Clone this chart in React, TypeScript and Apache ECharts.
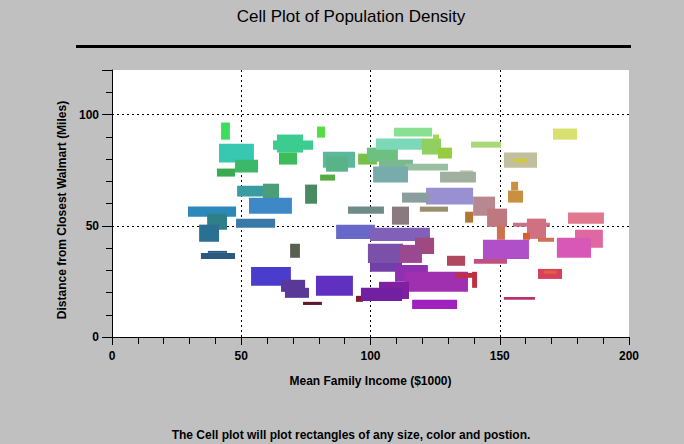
import React, { useEffect, useRef } from "react";
import * as echarts from "echarts";

const chartTitle = "Cell Plot of Population Density";
const footerText = "The Cell plot will plot rectangles of any size, color and postion.";
const xAxisName = "Mean Family Income ($1000)";
const yAxisName = "Distance from Closest Walmart (Miles)";

// each cell: [xStart, xEnd, yStart, yEnd] in data units
const cells: number[][] = [
  [42.2, 45.6, 88.7, 96.4],
  [41.4, 54.9, 78.4, 86.9],
  [47.6, 56.5, 73.9, 79.7],
  [40.6, 47.6, 72.1, 75.7],
  [48.4, 61.1, 63.1, 68.0],
  [58.4, 64.6, 60.8, 68.9],
  [53.0, 69.6, 55.4, 62.6],
  [29.4, 48.0, 54.1, 58.6],
  [36.8, 44.5, 48.2, 55.4],
  [33.7, 41.4, 42.8, 50.5],
  [48.0, 63.1, 49.1, 53.2],
  [34.4, 47.6, 35.1, 37.8],
  [37.1, 44.5, 37.8, 38.7],
  [53.8, 69.2, 23.0, 31.5],
  [63.8, 73.9, 82.9, 91.0],
  [62.3, 77.8, 84.2, 88.3],
  [64.6, 71.6, 77.5, 82.9],
  [79.3, 82.4, 89.6, 94.6],
  [81.6, 94.0, 76.1, 83.3],
  [82.8, 91.3, 74.3, 81.1],
  [80.5, 86.3, 70.3, 73.0],
  [74.7, 79.3, 59.9, 68.5],
  [68.9, 72.7, 35.6, 41.9],
  [91.3, 105.2, 55.4, 58.6],
  [86.7, 101.7, 44.1, 50.5],
  [95.2, 102.5, 77.5, 82.4],
  [98.6, 110.6, 78.8, 85.1],
  [102.1, 120.3, 84.2, 89.2],
  [109.1, 123.8, 90.1, 94.1],
  [119.9, 127.3, 82.0, 89.2],
  [124.2, 126.5, 88.7, 91.0],
  [126.1, 131.5, 80.2, 85.1],
  [138.9, 150.5, 85.1, 87.8],
  [103.3, 116.4, 75.2, 79.7],
  [113.3, 130.0, 74.8, 77.9],
  [101.0, 114.5, 69.4, 76.6],
  [126.9, 140.8, 69.4, 74.3],
  [134.6, 139.7, 74.3, 74.8],
  [121.5, 139.7, 59.5, 67.1],
  [112.2, 122.6, 60.4, 64.9],
  [119.1, 130.0, 56.3, 58.6],
  [108.3, 114.9, 50.5, 58.6],
  [151.6, 164.4, 76.1, 82.9],
  [155.1, 160.9, 78.4, 80.2],
  [170.6, 179.9, 88.7, 93.7],
  [154.4, 157.1, 65.8, 69.8],
  [153.2, 159.0, 60.4, 65.8],
  [139.7, 148.2, 54.5, 63.1],
  [145.1, 152.8, 49.5, 57.7],
  [136.6, 139.7, 51.4, 56.3],
  [176.4, 190.3, 50.9, 55.9],
  [155.1, 169.4, 49.5, 51.4],
  [160.5, 167.9, 44.1, 53.2],
  [164.8, 171.0, 42.8, 44.6],
  [148.9, 152.0, 43.7, 50.0],
  [159.0, 161.7, 43.7, 46.8],
  [179.1, 189.9, 40.1, 48.2],
  [172.1, 185.3, 35.6, 44.6],
  [143.5, 161.3, 35.1, 43.7],
  [140.0, 152.8, 32.9, 35.1],
  [129.6, 136.6, 32.0, 36.5],
  [164.8, 174.1, 26.1, 30.6],
  [167.0, 172.0, 28.4, 29.9],
  [151.6, 163.6, 16.7, 18.0],
  [99.8, 123.0, 43.2, 49.1],
  [117.2, 124.6, 37.3, 44.6],
  [99.0, 112.6, 33.3, 41.9],
  [111.4, 119.9, 33.3, 41.4],
  [99.8, 112.2, 29.3, 33.3],
  [65.4, 74.7, 20.3, 25.7],
  [66.9, 76.2, 17.6, 22.1],
  [78.9, 93.2, 18.5, 27.5],
  [73.9, 81.2, 14.4, 15.8],
  [94.4, 97.1, 15.8, 18.5],
  [109.5, 122.2, 24.8, 32.4],
  [113.3, 137.7, 20.3, 29.3],
  [103.3, 114.9, 17.1, 24.8],
  [96.3, 112.2, 16.2, 22.1],
  [116.1, 133.5, 12.6, 16.7],
  [132.7, 139.7, 26.6, 28.8],
  [139.3, 141.2, 22.1, 29.3],
];

const cellColors: string[] = [
  "#3ddc5a", "#38c8b2", "#3cb86a", "#3aaa50", "#3a9ca0", "#4a9e78", "#3f88c8",
  "#2b88b8", "#2e8088", "#2a7090", "#3a78a8", "#2a5a80", "#2a5a80", "#4a3ccc",
  "#3ccc90", "#3ccc90", "#3cbc5a", "#55dd44", "#5cb89a", "#58b488", "#5aaa44",
  "#4a8a60", "#5a6050", "#708a88", "#6868c8", "#78c048", "#6cc080", "#7cd8b8",
  "#88e090", "#90d060", "#a0d850", "#98cc40", "#a8d878", "#7ab890", "#98c0a0",
  "#78acac", "#a0b0a0", "#a8b088", "#9890d0", "#8a9ea0", "#9a9070", "#8a7a80",
  "#c0c0a0", "#d0c840", "#d8e070", "#c89040", "#c89040", "#b88890", "#c07880",
  "#b07830", "#e07890", "#c87088", "#d07080", "#d07050", "#d07050", "#d86030",
  "#e068a0", "#d858b8", "#b050c8", "#c05080", "#b04860", "#d84060", "#e06040",
  "#b83070", "#8060b8", "#a04880", "#7a50a8", "#9a4890", "#7040a8", "#5a3898",
  "#5a3898", "#6030c0", "#601830", "#801830", "#9030b0", "#a030b0", "#8020a0",
  "#7020a0", "#a020c0", "#c03040", "#c03040",
];

const xTicks = { min: 0, max: 200, interval: 50 };
const yTicks = { min: 0, max: 120, interval: 50 };

const FONT = "'Liberation Sans', Arial, sans-serif";

export default function App() {
  const ref = useRef<HTMLDivElement>(null);
  useEffect(() => {
    if (!ref.current) return;
    const chart = echarts.init(ref.current, undefined, { renderer: "svg" });
    const dotted = { type: [2, 3] as number[], width: 1 };
    chart.setOption({
      animation: false,
      backgroundColor: "#c0c0c0",
      textStyle: { fontFamily: FONT },
      grid: {
        left: 112, right: 55, top: 70, bottom: 107,
        show: true, backgroundColor: "#ffffff", borderWidth: 0,
      },
      graphic: [
        {
          type: "text", x: 351, y: 16,
          style: { text: chartTitle, font: `17px ${FONT}`, fill: "#000", align: "center", verticalAlign: "middle" },
        },
        { type: "rect", shape: { x: 76, y: 45, width: 555, height: 3 }, style: { fill: "#000" } },
        {
          type: "text", x: 62, y: 210, rotation: Math.PI / 2,
          style: { text: yAxisName, font: `bold 12px ${FONT}`, fill: "#000", align: "center", verticalAlign: "middle" },
        },
        {
          type: "text", x: 351, y: 435,
          style: { text: footerText, font: `bold 12px ${FONT}`, fill: "#000", align: "center", verticalAlign: "middle" },
        },
      ],
      xAxis: {
        type: "value", min: xTicks.min, max: xTicks.max, interval: xTicks.interval,
        name: xAxisName, nameLocation: "middle", nameGap: 38,
        nameTextStyle: { fontWeight: "bold", fontSize: 12, color: "#000", fontFamily: FONT },
        axisLine: { show: true, onZero: false, lineStyle: { color: "#000", width: 1 } },
        axisTick: { show: true, length: 8, lineStyle: { color: "#000" } },
        minorTick: { show: true, splitNumber: 5, length: 7, lineStyle: { color: "#000" } },
        axisLabel: { color: "#000", fontWeight: "bold", fontSize: 12, margin: 13, fontFamily: FONT },
        splitLine: { show: true, lineStyle: { ...dotted, color: ["transparent", "#000", "#000", "#000", "transparent"] } },
      },
      yAxis: {
        type: "value", min: yTicks.min, max: yTicks.max, interval: yTicks.interval,
        name: "",
        axisLine: { show: true, onZero: false, lineStyle: { color: "#000", width: 1 } },
        axisTick: { show: true, length: 10, lineStyle: { color: "#000" } },
        minorTick: { show: true, splitNumber: 5, length: 6, lineStyle: { color: "#000" } },
        axisLabel: { color: "#000", fontWeight: "bold", fontSize: 12, margin: 13, showMaxLabel: false, fontFamily: FONT },
        splitLine: { show: true, lineStyle: { ...dotted, color: ["transparent", "#000", "#000", "transparent"] } },
      },
      series: [
        {
          type: "custom",
          data: cells,
          encode: { x: [0, 1], y: [2, 3] },
          clip: true,
          renderItem: (params: any, api: any) => {
            const p0 = api.coord([api.value(0), api.value(3)]);
            const p1 = api.coord([api.value(1), api.value(2)]);
            return {
              type: "rect",
              shape: { x: p0[0], y: p0[1], width: p1[0] - p0[0], height: p1[1] - p0[1] },
              style: { fill: cellColors[params.dataIndex] },
            };
          },
        },
      ],
    });
    return () => chart.dispose();
  }, []);
  return (
    <div
      ref={ref}
      style={{ position: "fixed", left: 0, top: 0, width: 684, height: 444 }}
    />
  );
}
